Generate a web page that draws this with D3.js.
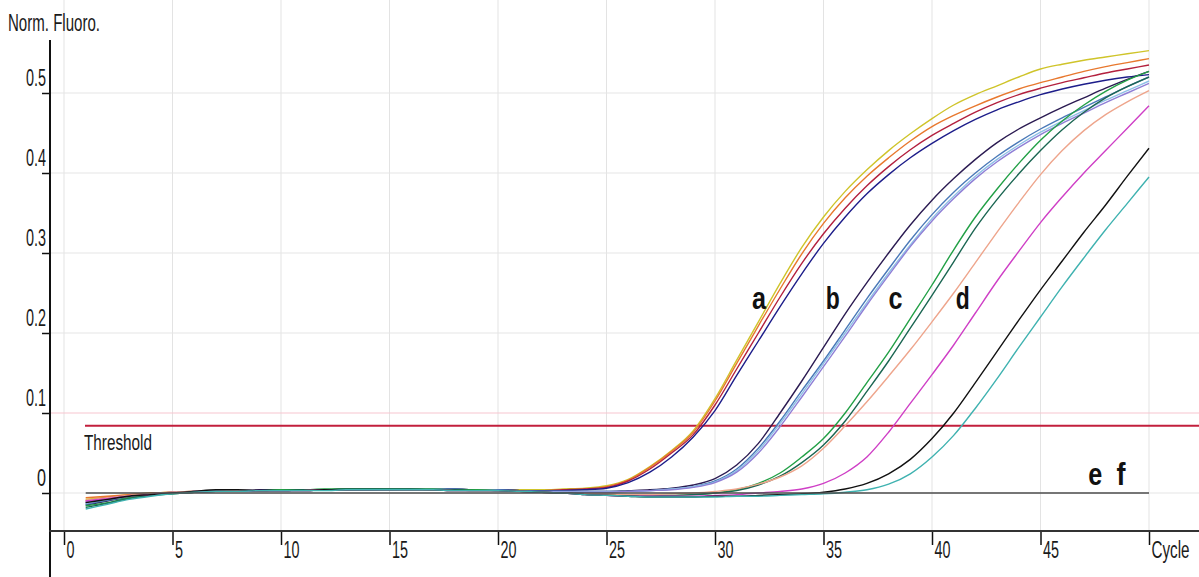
<!DOCTYPE html>
<html>
<head>
<meta charset="utf-8">
<script src="https://cdn.jsdelivr.net/npm/d3@7"></script>
<style>
body { margin: 0; background: #fff; }
text { font-family: "Liberation Sans Narrow", "Arial Narrow", "Liberation Sans", Arial, sans-serif; fill: #1a1a1a; }
</style>
</head>
<body>
<div id="chart"></div>
<script>
// cycle numbers (x) and axis ticks
var cycles = [1,2,3,4,5,6,7,8,9,10,11,12,13,14,15,16,17,18,19,20,21,22,23,24,25,
              26,27,28,29,30,31,32,33,34,35,36,37,38,39,40,41,42,43,44,45,46,47,48,49,50]
var xTicks = [0,5,10,15,20,25,30,35,40,45,50]
var yTicks = [0,0.1,0.2,0.3,0.4,0.5]
var threshold = 0.084

// normalised fluorescence, one value per cycle
var yellowA = [-0.008,-0.005,-0.002,0.000,0.001,0.002,0.003,0.003,0.003,0.004,
  0.004,0.004,0.005,0.005,0.005,0.005,0.005,0.005,0.004,0.004,
  0.004,0.004,0.005,0.006,0.009,0.017,0.033,0.053,0.078,0.118,
  0.166,0.214,0.262,0.307,0.345,0.377,0.404,0.428,0.449,0.468,
  0.485,0.498,0.509,0.520,0.530,0.536,0.541,0.545,0.549,0.553]
var orangeA = [-0.006,-0.004,-0.002,0.000,0.001,0.002,0.002,0.003,0.003,0.003,
  0.004,0.004,0.004,0.005,0.005,0.005,0.004,0.004,0.004,0.004,
  0.003,0.003,0.004,0.005,0.008,0.016,0.032,0.052,0.076,0.115,
  0.162,0.209,0.255,0.299,0.337,0.369,0.396,0.419,0.440,0.458,
  0.472,0.484,0.495,0.505,0.513,0.520,0.527,0.533,0.538,0.543]
var crimsonA = [-0.010,-0.006,-0.003,-0.001,0.001,0.002,0.003,0.003,0.003,0.004,
  0.004,0.004,0.004,0.005,0.005,0.005,0.005,0.004,0.004,0.004,
  0.003,0.003,0.004,0.005,0.007,0.015,0.030,0.050,0.073,0.110,
  0.155,0.200,0.245,0.287,0.324,0.356,0.384,0.408,0.429,0.447,
  0.462,0.476,0.488,0.498,0.506,0.513,0.519,0.525,0.530,0.535]
var navyA = [-0.012,-0.008,-0.004,-0.002,0.000,0.002,0.003,0.003,0.003,0.003,
  0.004,0.004,0.004,0.004,0.005,0.005,0.005,0.005,0.004,0.004,
  0.003,0.003,0.003,0.004,0.006,0.013,0.026,0.045,0.070,0.103,
  0.147,0.190,0.233,0.274,0.312,0.345,0.374,0.398,0.419,0.437,
  0.453,0.467,0.479,0.489,0.498,0.505,0.511,0.516,0.520,0.523]
var darkB = [-0.015,-0.010,-0.005,-0.002,0.000,0.002,0.003,0.003,0.004,0.004,
  0.004,0.004,0.005,0.005,0.005,0.005,0.005,0.004,0.004,0.004,
  0.003,0.002,0.002,0.002,0.002,0.003,0.004,0.006,0.010,0.018,
  0.035,0.062,0.100,0.140,0.182,0.224,0.263,0.300,0.335,0.366,
  0.393,0.417,0.438,0.455,0.469,0.482,0.494,0.506,0.517,0.527]
var steelB = [-0.014,-0.009,-0.005,-0.002,0.000,0.001,0.002,0.003,0.003,0.003,
  0.004,0.004,0.004,0.005,0.005,0.005,0.005,0.005,0.004,0.004,
  0.003,0.002,0.002,0.002,0.002,0.002,0.003,0.005,0.008,0.015,
  0.030,0.056,0.090,0.128,0.165,0.204,0.243,0.280,0.316,0.348,
  0.376,0.400,0.421,0.439,0.455,0.469,0.482,0.495,0.508,0.520]
var lightB = [-0.013,-0.008,-0.004,-0.002,0.000,0.001,0.002,0.002,0.003,0.003,
  0.003,0.004,0.004,0.004,0.005,0.005,0.005,0.004,0.004,0.003,
  0.002,0.002,0.002,0.002,0.002,0.002,0.003,0.005,0.008,0.014,
  0.028,0.053,0.087,0.124,0.162,0.200,0.238,0.275,0.310,0.343,
  0.371,0.396,0.417,0.435,0.451,0.465,0.478,0.491,0.503,0.515]
var lavenderB = [-0.011,-0.007,-0.004,-0.001,0.001,0.002,0.002,0.003,0.003,0.003,
  0.003,0.004,0.004,0.004,0.004,0.005,0.005,0.004,0.004,0.003,
  0.002,0.001,0.001,0.001,0.001,0.002,0.003,0.004,0.007,0.013,
  0.026,0.050,0.083,0.120,0.158,0.196,0.235,0.272,0.308,0.340,
  0.368,0.393,0.414,0.432,0.448,0.462,0.475,0.488,0.500,0.512]
var greenC = [-0.016,-0.012,-0.006,-0.003,-0.001,0.001,0.002,0.003,0.003,0.004,
  0.004,0.005,0.005,0.005,0.005,0.005,0.005,0.004,0.004,0.003,
  0.002,0.001,0.000,-0.001,-0.002,-0.003,-0.003,-0.003,-0.002,0.000,
  0.004,0.012,0.025,0.045,0.068,0.100,0.138,0.176,0.218,0.260,
  0.304,0.345,0.380,0.412,0.441,0.465,0.485,0.502,0.516,0.527]
var darkGreenC = [-0.018,-0.013,-0.007,-0.003,-0.001,0.001,0.002,0.002,0.003,0.003,
  0.004,0.004,0.005,0.005,0.005,0.005,0.004,0.004,0.003,0.003,
  0.002,0.001,0.000,-0.001,-0.002,-0.003,-0.003,-0.003,-0.002,0.000,
  0.003,0.010,0.021,0.038,0.060,0.090,0.127,0.165,0.206,0.247,
  0.289,0.331,0.367,0.399,0.428,0.454,0.476,0.494,0.508,0.520]
var salmonC = [-0.009,-0.006,-0.003,-0.001,0.001,0.002,0.002,0.003,0.003,0.003,
  0.003,0.004,0.004,0.004,0.004,0.004,0.004,0.003,0.003,0.003,
  0.002,0.001,0.000,-0.001,-0.001,-0.002,-0.002,-0.001,0.000,0.002,
  0.005,0.011,0.020,0.034,0.056,0.084,0.114,0.146,0.179,0.214,
  0.250,0.288,0.326,0.363,0.398,0.428,0.453,0.473,0.489,0.503]
var magentaD = [-0.010,-0.007,-0.004,-0.002,0.000,0.001,0.002,0.002,0.003,0.003,
  0.003,0.004,0.004,0.004,0.004,0.004,0.004,0.003,0.003,0.003,
  0.002,0.001,0.000,-0.002,-0.003,-0.004,-0.004,-0.004,-0.004,-0.003,
  -0.002,0.000,0.002,0.005,0.012,0.025,0.045,0.076,0.112,0.148,
  0.185,0.225,0.265,0.302,0.338,0.370,0.400,0.428,0.456,0.484]
var blackE = [-0.012,-0.008,-0.004,-0.002,0.000,0.002,0.004,0.004,0.003,0.003,
  0.003,0.004,0.004,0.004,0.004,0.004,0.004,0.003,0.003,0.003,
  0.002,0.001,0.000,-0.002,-0.003,-0.004,-0.005,-0.005,-0.005,-0.004,
  -0.004,-0.003,-0.002,-0.001,0.001,0.005,0.012,0.024,0.042,0.068,
  0.100,0.138,0.177,0.216,0.254,0.290,0.326,0.360,0.396,0.431]
var tealF = [-0.020,-0.014,-0.008,-0.004,-0.001,0.001,0.002,0.002,0.003,0.003,
  0.003,0.003,0.004,0.004,0.004,0.004,0.004,0.003,0.003,0.003,
  0.002,0.001,0.000,-0.002,-0.003,-0.004,-0.005,-0.005,-0.005,-0.005,
  -0.004,-0.004,-0.003,-0.002,-0.001,0.001,0.004,0.011,0.024,0.045,
  0.072,0.106,0.143,0.182,0.220,0.258,0.294,0.329,0.362,0.395]
var grayNeg = [0,0,0,0,0,0,0,0,0,0,0,0,0,0,0,0,0,0,0,0,0,0,0,0,0,
  0,0,0,0,0,0,0,0,0,0,0,0,0,0,0,0,0,0,0,0,0,0,0,0,0]

var seriesValues = [yellowA, orangeA, crimsonA, navyA, darkB, steelB, lightB, lavenderB,
  greenC, darkGreenC, salmonC, magentaD, blackE, tealF, grayNeg]
var seriesColors = ["#cfc42a","#e8782e","#b3203e","#1d1d8a","#2b1b52","#4a79b8","#8ec0e6","#8f7fd6",
  "#22a046","#1b6652","#eea58c","#cf3fc6","#111111","#3fb2b0","#4d4d4d"]

var curveLabels = ["a","b","c","d","e","f"]
var curveLabelCycles = [31.7,35.1,38.0,41.1,47.2,48.5]
var curveLabelValues = [0.23,0.23,0.23,0.23,0.01,0.01]

var svg = d3.select("#chart").append("svg")
    .attr("width", 1199)
    .attr("height", 577)

var x = d3.scaleLinear().domain([0, 50]).range([64, 1149])
var y = d3.scaleLinear().domain([0, 0.5]).range([493, 93])

// grid
svg.selectAll("vgrid")
    .data(xTicks)
    .enter()
    .append("line")
    .attr("x1", function(d){ return x(d) })
    .attr("x2", function(d){ return x(d) })
    .attr("y1", 0)
    .attr("y2", 531)
    .style("stroke", "#e3e3e3")
    .style("stroke-width", 1)

svg.selectAll("hgrid")
    .data(yTicks)
    .enter()
    .append("line")
    .attr("x1", 50)
    .attr("x2", 1199)
    .attr("y1", function(d){ return y(d) })
    .attr("y2", function(d){ return y(d) })
    .style("stroke", function(d){ return d == 0.1 ? "#f7c6cf" : "#e6e6e6" })
    .style("stroke-width", 1.2)

// threshold
svg.append("line")
    .attr("x1", 85)
    .attr("x2", 1199)
    .attr("y1", y(threshold))
    .attr("y2", y(threshold))
    .style("stroke", "#c21f3c")
    .style("stroke-width", 2)

svg.append("text")
    .attr("x", 84)
    .attr("y", 450)
    .attr("textLength", 68)
    .attr("lengthAdjust", "spacingAndGlyphs")
    .style("font-size", "22px")
    .text("Threshold")

// curves
var line = d3.line()
    .x(function(d, i){ return x(cycles[i]) })
    .y(function(d){ return y(d) })
    .curve(d3.curveMonotoneX)

svg.selectAll("curves")
    .data(seriesValues)
    .enter()
    .append("path")
    .attr("d", function(d){ return line(d) })
    .style("fill", "none")
    .style("stroke", function(d, i){ return seriesColors[i] })
    .style("stroke-width", 1.4)

// letter labels
svg.selectAll("letters")
    .data(curveLabels)
    .enter()
    .append("text")
    .attr("x", function(d, i){ return x(curveLabelCycles[i]) })
    .attr("y", function(d, i){ return y(curveLabelValues[i]) })
    .attr("textLength", function(d){ return d == "f" ? 9 : 14 })
    .attr("lengthAdjust", "spacingAndGlyphs")
    .style("font-size", "32px")
    .style("font-weight", "bold")
    .style("fill", "#111")
    .text(function(d){ return d })

// axes
var yAxis = svg.append("g")
    .attr("transform", "translate(50,0)")
    .call(d3.axisLeft(y).tickValues(yTicks).tickSize(8).tickFormat(function(d){ return d == 0 ? "0" : d3.format(".1f")(d) }))
yAxis.select(".domain").remove()
yAxis.selectAll(".tick line").style("stroke", "#111").style("stroke-width", 1.5)
yAxis.selectAll(".tick text")
    .attr("x", -4)
    .attr("y", -8)
    .attr("dy", 0)
    .attr("textLength", function(d){ return d == 0 ? 9 : 20 })
    .attr("lengthAdjust", "spacingAndGlyphs")
    .attr("font-family", null)
    .attr("font-size", null)
    .style("font-size", "24px")

var xAxis = svg.append("g")
    .attr("transform", "translate(0,531)")
    .call(d3.axisBottom(x).tickValues(xTicks).tickSize(14).tickFormat(function(d){ return d == 50 ? "Cycle" : d }))
xAxis.select(".domain").remove()
xAxis.selectAll(".tick line").style("stroke", "#111").style("stroke-width", 1.5)
xAxis.selectAll(".tick text")
    .attr("x", 2)
    .attr("y", 27)
    .attr("dy", 0)
    .attr("text-anchor", "start")
    .attr("textLength", function(d){ return d == 50 ? 38 : String(d).length * 8 })
    .attr("lengthAdjust", "spacingAndGlyphs")
    .attr("font-family", null)
    .attr("font-size", null)
    .style("font-size", "23px")
svg.selectAll(".tick text").attr("fill", null)

svg.append("line")
    .attr("x1", 50).attr("x2", 50)
    .attr("y1", 40).attr("y2", 577)
    .style("stroke", "#111")
    .style("stroke-width", 2)

svg.append("line")
    .attr("x1", 49).attr("x2", 1199)
    .attr("y1", 531).attr("y2", 531)
    .style("stroke", "#333")
    .style("stroke-width", 2.2)

svg.append("text")
    .attr("x", 8)
    .attr("y", 31)
    .attr("textLength", 92)
    .attr("lengthAdjust", "spacingAndGlyphs")
    .style("font-size", "23px")
    .text("Norm. Fluoro.")
</script>
</body>
</html>
